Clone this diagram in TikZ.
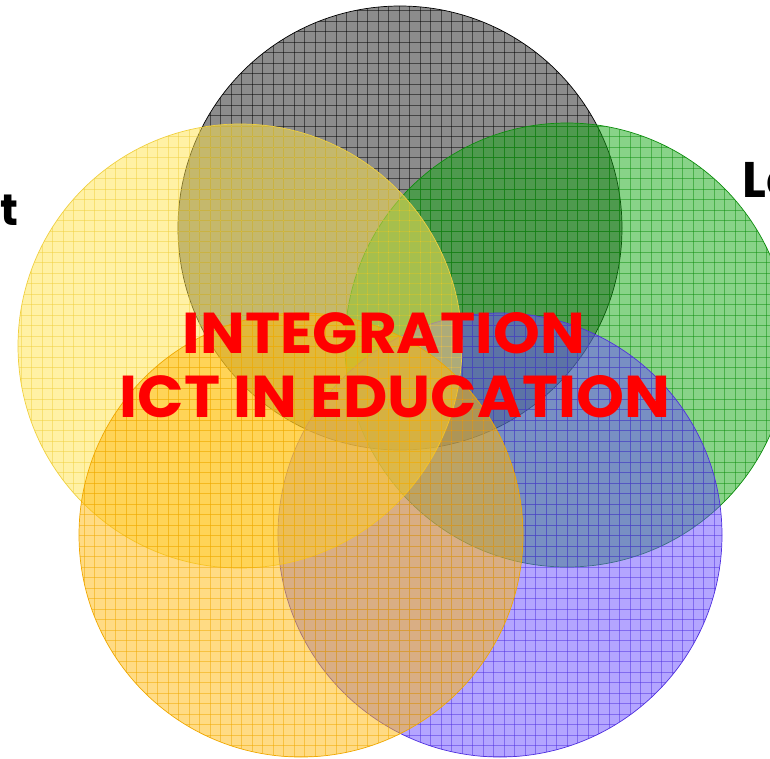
\documentclass[tikz,border=0pt]{standalone}
\usepackage{fontspec}
\newfontfamily\cfont{Poppins}
\begin{document}
\begin{tikzpicture}[x=1pt,y=-1pt,
  disc/.style={fill opacity=0.5},
  ring/.style={line width=0.7pt},
  gline/.style={line width=0.8pt,opacity=0.5},
  lbl/.style={inner sep=0pt,font=\cfont\bfseries}]
\useasboundingbox (0,0) rectangle (770,758);
\clip (0,0) rectangle (770,758);
\definecolor{cGreen}{HTML}{12A812}
\definecolor{cGreenL}{HTML}{0E8E0E}
\definecolor{cPurple}{HTML}{6A4DFF}
\definecolor{cPurpleL}{HTML}{5030E0}
\definecolor{cYellow}{HTML}{FFE44D}
\definecolor{cYellowL}{HTML}{F0D040}
\definecolor{cOrange}{HTML}{FFB80A}
\definecolor{cOrangeL}{HTML}{F0A800}
% square hatching inside the current clip
\newcommand{\hatchlines}[1]{%
  \foreach \k in {0,...,74}{
    \draw[#1,gline] (\k*10.5,0) -- (\k*10.5,758);
    \draw[#1,gline] (0,\k*10.5) -- (770,\k*10.5);}}
% one hatched, translucent disc
\newcommand{\hatchdisc}[4]{%
  \fill[#3,disc] (#1) circle[radius=#2];
  \begin{scope}
    \clip (#1) circle[radius=#2];
    \hatchlines{#4}
  \end{scope}
  \draw[#4,ring] (#1) circle[radius=#2];}
\coordinate (g) at (400,228);
\coordinate (gr) at (567,345);
\coordinate (p) at (500,535);
\coordinate (y) at (240,346);
\coordinate (o) at (301,535);
\fill[white] (0,0) rectangle (770,758);
\fill[white!55!black] (g) circle[radius=222];
\begin{scope}
  \clip (g) circle[radius=222];
  \hatchlines{black}
\end{scope}
\draw[black,ring] (g) circle[radius=222];
\hatchdisc{gr}{222}{cGreen}{cGreenL}
\hatchdisc{p}{222}{cPurple}{cPurpleL}
\hatchdisc{y}{222}{cYellow}{cYellowL}
\hatchdisc{o}{222}{cOrange}{cOrangeL}
\node[lbl,text=red,anchor=base] (t1) at (384,353) {\resizebox{402pt}{41pt}{INTEGRATION}};
\node[lbl,text=red,anchor=base] (t2) at (395,417) {\resizebox{550pt}{42pt}{ICT IN EDUCATION}};
\node[lbl,anchor=base east,font=\cfont\bfseries\fontsize{44}{44}\selectfont] (lt) at (19,225) {t};
\node[lbl,anchor=base west,font=\cfont\bfseries\fontsize{50}{50}\selectfont] (rt) at (742,197) {Le};
\end{tikzpicture}
\end{document}
